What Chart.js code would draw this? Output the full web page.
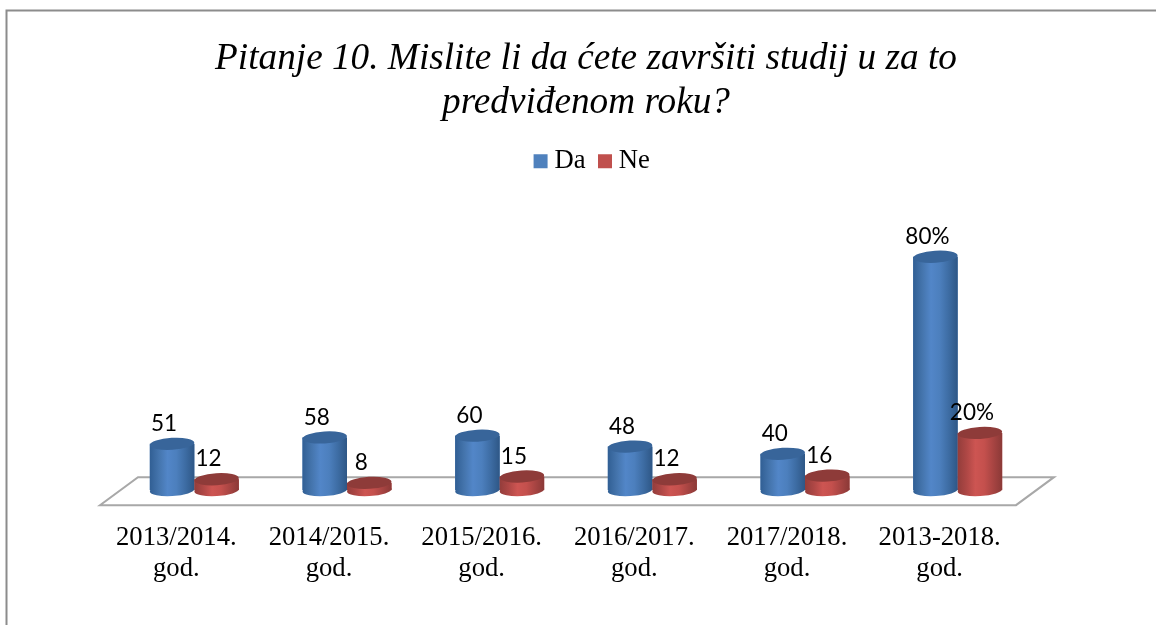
<!DOCTYPE html>
<html><head><meta charset="utf-8">
<style>html,body{margin:0;padding:0;background:#fff}#w{width:1156px;height:625px;position:relative}</style>
<script src="https://cdn.jsdelivr.net/npm/chart.js@4/dist/chart.umd.min.js"></script>
</head><body><div id="w"><canvas id="c" width="1156" height="625"></canvas></div>
<script>
const categories = [["2013/2014.","god."],["2014/2015.","god."],["2015/2016.","god."],["2016/2017.","god."],["2017/2018.","god."],["2013-2018.","god."]];
const daValues = [51,58,60,48,40,257];
const neValues = [12,8,15,12,16,63];
const daLabels = ["51","58","60","48","40","80%"];
const neLabels = ["12","8","15","12","16","20%"];
const titleLines = ["Pitanje 10. Mislite li da ćete završiti studij u za to","predviđenom roku?"];

const SHIFT_X = 18, SHIFT_Y = -15, RX_H = 6, TILT = -0.06;
const palettes = [
  {stops:['#315f94','#4474ac','#5286c8','#4c7fbd','#3d6ca3','#2e5786'],cap:'#38659a'},
  {stops:['#933d3b','#ae4745','#cd5552','#c4504d','#a74442','#8b3937'],cap:'#8e3b39'}
];
const cyl = {
  id:'cyl',
  afterLayout(chart){ chart.legend.left+=9; chart.legend.right+=9; },
  beforeDraw(chart){
    const {ctx,chartArea:a}=chart;
    ctx.save();
    ctx.strokeStyle='#8c8c8c';ctx.lineWidth=2;
    ctx.beginPath();ctx.moveTo(1156,10.5);ctx.lineTo(6.5,10.5);ctx.lineTo(6.5,625);ctx.stroke();
    ctx.strokeStyle='#a8a8a8';ctx.lineWidth=2;ctx.lineJoin='miter';
    ctx.beginPath();
    ctx.moveTo(a.left,a.bottom);ctx.lineTo(a.right,a.bottom);
    ctx.lineTo(a.right+38,a.bottom-28);ctx.lineTo(a.left+38,a.bottom-28);ctx.closePath();ctx.stroke();
    ctx.restore();
  },
  beforeDatasetsDraw(chart){chart.ctx.save();chart.ctx.translate(SHIFT_X,SHIFT_Y);},
  afterDatasetsDraw(chart){
    const ctx=chart.ctx;
    [0,1].forEach(ds=>{
      const p=palettes[ds],meta=chart.getDatasetMeta(ds);
      meta.data.forEach(el=>{
        const L=el.x-el.width/2,R=el.x+el.width/2;
        const g=ctx.createLinearGradient(L,0,R,0);
        p.stops.forEach((s,i)=>g.addColorStop(i/(p.stops.length-1),s));
        ctx.fillStyle=g;
        ctx.beginPath();
        ctx.ellipse(el.x,el.base,el.width/2,RX_H,TILT,0,Math.PI*2);ctx.fill();
        ctx.fillRect(L,el.y,el.width,el.base-el.y);
        ctx.fillStyle=p.cap;
        ctx.beginPath();
        ctx.ellipse(el.x,el.y,el.width/2,RX_H,TILT,0,Math.PI*2);ctx.fill();
      });
    });
    ctx.fillStyle='#000';ctx.font='22.5px Lato, Carlito, sans-serif';ctx.textAlign='center';ctx.textBaseline='middle';
    [daLabels,neLabels].forEach((labs,ds)=>{
      chart.getDatasetMeta(ds).data.forEach((el,i)=>ctx.fillText(labs[i],el.x-8,el.y-20));
    });
    ctx.restore();
  }
};
new Chart(document.getElementById('c'),{
  type:'bar',
  data:{labels:categories,datasets:[
    {label:'Da',data:daValues,backgroundColor:'#4f81bd',borderWidth:0,categoryPercentage:0.583,barPercentage:1},
    {label:'Ne',data:neValues,backgroundColor:'#c0504d',borderWidth:0,categoryPercentage:0.583,barPercentage:1}
  ]},
  plugins:[cyl],
  options:{
    responsive:false,animation:false,
    layout:{padding:{left:100,right:84,top:37,bottom:32}},
    plugins:{
      tooltip:{enabled:false},
      title:{display:true,text:titleLines,color:'#000',font:{family:'"Liberation Serif"',size:37.25,style:'italic',weight:'normal',lineHeight:1.18},padding:{top:0,bottom:4}},
      legend:{display:true,position:'top',labels:{color:'#000',font:{family:'"Liberation Serif"',size:26.67},usePointStyle:true,pointStyle:'rect',boxWidth:1,boxHeight:14,padding:19},onClick:null}
    },
    scales:{
      x:{grid:{display:false},border:{display:false},ticks:{color:'#000',font:{family:'"Liberation Serif"',size:26.67,lineHeight:1.16},padding:9,maxRotation:0,autoSkip:false}},
      y:{display:false,min:0,max:353},
      y2:{display:true,position:'right',grid:{display:false},border:{display:false},ticks:{display:false},afterFit(s){s.width=56;}}
    }
  }
});
</script></body></html>
